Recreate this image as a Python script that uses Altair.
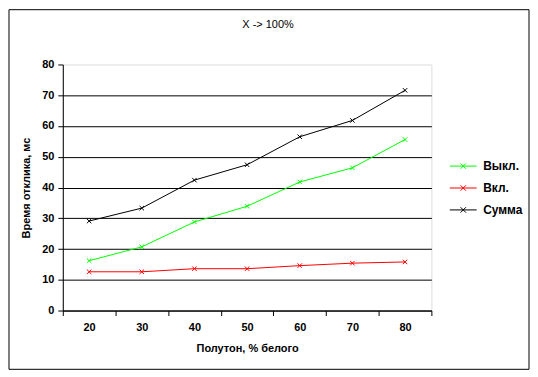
import altair as alt
import pandas as pd

halftone = [20, 30, 40, 50, 60, 70, 80]
vykl = [16.2, 20.7, 28.8, 33.9, 41.8, 46.4, 55.6]
vkl = [12.6, 12.6, 13.6, 13.6, 14.6, 15.4, 15.8]
summa = [29.1, 33.3, 42.4, 47.4, 56.5, 61.8, 71.6]
series_names = ["Выкл.", "Вкл.", "Сумма"]
series_colors = ["#00ff00", "#ff0000", "#000000"]
y_ticks = [0, 10, 20, 30, 40, 50, 60, 70, 80]

rows = []
for name, vals in zip(series_names, [vykl, vkl, summa]):
    for xv, v in zip(halftone, vals):
        rows.append({"x": xv, "series": name, "value": v})
df = pd.DataFrame(rows)

W, H = 370, 247
FONT = "Liberation Sans"
XMARK = "M-1,-1L1,1M-1,1L1,-1"
LEGSYM = "M-1,0L1,0M-0.2,-0.2L0.2,0.2M-0.2,0.2L0.2,-0.2"

color = alt.Color(
    "series:N",
    scale=alt.Scale(domain=series_names, range=series_colors),
    legend=alt.Legend(
        title=None, orient="none", legendX=388, legendY=88,
        symbolType=LEGSYM, symbolSize=729, symbolStrokeWidth=1,
        symbolFillColor="transparent",
        labelFont=FONT, labelFontSize=12, labelFontWeight="bold",
        labelColor="black", labelOffset=6, rowPadding=2,
    ),
)

xenc = alt.X(
    "x:O",
    bandPosition=0.5,
    scale=alt.Scale(type="band", paddingInner=0, paddingOuter=0),
    axis=alt.Axis(
        title="Полутон, % белого", tickBand="extent", labelAngle=0,
        domainColor="black", tickColor="black", tickSize=5,
        labelFont=FONT, labelFontSize=11, labelFontWeight="bold",
        labelColor="black", labelPadding=6,
        titleFont=FONT, titleFontSize=11, titleFontWeight="bold",
        titleColor="black", titlePadding=10,
    ),
)
yenc = alt.Y(
    "value:Q",
    scale=alt.Scale(domain=[0, 80], nice=False),
    axis=alt.Axis(
        values=y_ticks, title="Время отклика, мс",
        grid=True, gridColor="black", gridWidth=1,
        gridOpacity=alt.ExprRef("datum.value >= 80 ? 0 : 1"),
        domainColor="black", tickColor="black", tickSize=5,
        labelFont=FONT, labelFontSize=11, labelFontWeight="bold",
        labelColor="black", labelPadding=4,
        titleFont=FONT, titleFontSize=11, titleFontWeight="bold",
        titleColor="black", titlePadding=10,
    ),
)

base = alt.Chart(df).encode(x=xenc, y=yenc, color=color)
lines = base.mark_line(strokeWidth=1)
points = base.mark_point(shape=XMARK, filled=False, size=20, strokeWidth=1, opacity=1)

frame = alt.Chart(pd.DataFrame({"a": [0]})).mark_rect(
    fill="transparent", stroke="black", strokeWidth=1
).encode(x=alt.value(-54), x2=alt.value(468), y=alt.value(-55), y2=alt.value(306))

title = alt.Chart(pd.DataFrame({"t": ["X -> 100%"]})).mark_text(
    font=FONT, fontSize=11, color="black", align="center", baseline="middle"
).encode(text="t:N", x=alt.value(206), y=alt.value(-40))

chart = alt.layer(frame, lines, points, title).properties(
    width=W, height=H, padding=0
).configure_view(stroke=None).configure(background="white")

chart.save("out.html", embed_options={"renderer": "svg", "actions": False})
